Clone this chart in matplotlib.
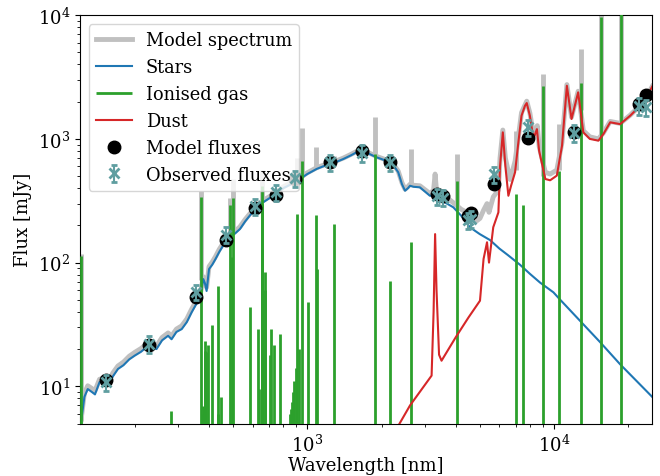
import matplotlib
matplotlib.use('Agg')
import matplotlib.pyplot as plt

plt.rcParams['font.family'] = ['DejaVu Serif']
plt.rcParams['mathtext.fontset'] = 'dejavuserif'
plt.rcParams['font.size'] = 13

# stellar component [nm, mJy]
star_wave = [121, 125, 129, 134, 138, 144, 150, 156, 163, 171, 180, 190, 200, 212, 227,
             245, 258, 273, 282, 295, 310, 325, 340, 361, 370, 379, 385, 391, 400, 412,
             425, 440, 455, 471, 490, 510, 534, 560, 590, 614, 650, 700, 752, 800, 850,
             878, 934, 1000, 1092, 1160, 1236, 1320, 1400, 1500, 1585, 1645, 1750, 1910,
             2050, 2164, 2250, 2337, 2420, 2490, 2560, 2608, 2700, 2860, 3000, 3140, 3240,
             3500, 3906, 4200, 4560, 5000, 5505, 6000, 6500, 7280, 7990, 8770, 9940,
             10500, 12730, 15380, 18500, 25000]
star_flux = [5.0, 8.2, 9.5, 9.0, 8.6, 10.8, 10.9, 10.1, 12.0, 13.8, 14.8, 16.5, 17.7, 19.0, 21.3,
             20.0, 23.5, 25.6, 24.0, 27.5, 29, 33, 39.6, 49, 55, 73.6, 68, 59, 88.7, 96,
             107, 122, 136, 150, 163, 172, 187, 215, 245, 271, 300, 330, 359, 400, 425,
             446, 474, 520, 572, 600, 627, 655, 688, 735, 780, 795, 770, 710,
             675, 647, 600, 537, 430, 381, 400, 418, 410, 406, 375, 347, 347,
             318, 280, 240, 193, 170, 152, 130, 115, 96, 81, 69, 57.5,
             51, 33.9, 22.7, 15.1, 8.2]

# dust component
dust_wave = [2250, 2608, 3190, 3250, 3296, 3340, 3420, 3500, 4000, 4500, 5010, 5180, 5350,
             5450, 5670, 5950, 6040, 6200, 6350, 6530, 6700, 6950, 7150, 7380, 7620, 7750,
             7980, 8250, 8520, 8700, 9220, 9640, 10260, 10770, 11270, 11770, 12520, 13140,
             13960, 15120, 15850, 16880, 18520, 20340, 23070, 25000]
dust_flux = [4.2, 7.0, 12.2, 40, 170, 60, 18, 16.1, 25, 36, 49.2, 107, 146,
             100, 193, 255, 600, 1130, 600, 347, 420, 537, 900, 1540, 1850, 1950,
             1540, 1000, 1200, 800, 474, 463, 505, 881, 2690, 1449, 2380, 1130,
             1000, 968, 1096, 1362, 1317, 1540, 1977, 2650]

# full model continuum
model_wave = [121, 125, 129, 134, 138, 144, 150, 156, 163, 171, 180, 190, 200, 212, 227,
              245, 258, 273, 282, 295, 310, 325, 340, 361, 370, 379, 385, 391, 400, 412,
              425, 440, 455, 471, 490, 510, 534, 560, 590, 614, 650, 700, 752, 800, 850,
              878, 934, 1000, 1092, 1160, 1236, 1320, 1400, 1500, 1585, 1645, 1750, 1910,
              2050, 2164, 2250, 2337, 2420, 2490, 2560, 2608, 2700, 2860, 3000, 3140, 3250,
              3296, 3340, 3500, 3790, 3906, 4200, 4430, 4560, 4865, 5010, 5180, 5350, 5450,
              5670, 5950, 6040, 6200, 6350, 6630, 6800, 6950, 7150, 7380, 7750, 7980, 8250,
              8550, 8700, 9220, 9640, 10260, 10770, 11270, 11770, 12520, 13140, 13960,
              15120, 15850, 16880, 18520, 20340, 23070, 25000]
model_flux = [5.2, 8.8, 10.1, 9.6, 9.2, 11.4, 11.6, 10.8, 12.8, 14.6, 15.7, 17.5, 18.8, 20.2, 22.5,
              21.2, 24.8, 27.0, 25.5, 29, 30.8, 35, 42, 52, 58, 77, 72, 63, 93, 101,
              112, 128, 142, 157, 170, 179, 195, 223, 253, 280, 310, 340, 370, 410, 436,
              457, 485, 532, 585, 612, 640, 668, 700, 748, 793, 808, 782, 722,
              686, 658, 612, 548, 442, 392, 412, 430, 422, 418, 388, 362, 385,
              520, 380, 335, 320, 305, 270, 255, 235, 218, 228, 265, 300, 255,
              340, 385, 700, 1180, 700, 470, 560, 660, 1000, 1630, 2020, 1620, 1080,
              1280, 870, 537, 520, 560, 940, 2750, 1500, 2430, 1165, 1040,
              1000, 1120, 1385, 1335, 1555, 1990, 2660]

# emission lines from the model spectrum (peak above continuum)
spike_wave = [121.6, 372.7, 486.1, 500.7, 656.3, 906.9, 953.1, 1083, 1282, 1875, 2626,
              4051, 6985, 8991, 10510, 12814, 15555, 18713]
spike_base = [5.2, 72, 168, 175, 310, 470, 490, 585, 640, 730, 418,
              290, 560, 500, 560, 1700, 1080, 1350]
spike_top = [118, 381, 330, 470, 560, 700, 1230, 855, 731, 1497, 828,
             755, 1165, 3350, 1320, 5333, 12000, 13000]

# ionised gas emission lines
line_wave = [121.6, 279.8, 372.7, 377.1, 379.8, 383.5, 386.9, 388.9, 397.0, 410.2, 434.0,
             436.3, 447.1, 486.1, 495.9, 500.7, 587.6, 630.0, 636.3, 654.8, 656.3, 658.4,
             671.6, 673.1, 706.5, 713.6, 732.0, 775.1, 854.5, 859.8, 866.5, 875.0, 886.3,
             901.5, 906.9, 922.9, 953.1, 1005, 1083, 1094, 1282, 1875, 2166, 2626, 4051,
             6985, 7460, 8991, 10510, 12814, 15555, 18713]
line_flux = [114, 6.3, 337, 6.0, 6.9, 19.4, 23.4, 19, 21.5, 31.5, 65,
             6.0, 8.2, 290, 110, 330, 43.5, 29, 9.5, 130, 420, 300,
             84, 60, 18, 29, 21.5, 26.5, 6.0, 6.5, 7.5, 9, 11,
             14, 247, 20, 667, 48.3, 243, 89, 205, 755, 71.5, 146, 459,
             359, 292, 2660, 553, 2832, 9700, 12000]

# photometric points
filter_wave = [153, 228, 355, 469, 617, 748, 893, 1235, 1662, 2159, 3353, 3550, 4496, 4603,
               5731, 7872, 12000, 22088, 23680]
model_fluxes = [11.2, 21.7, 52.5, 152, 275, 352, 474, 647, 795, 647, 359, 345, 240, 250,
                431, 1010, 1143, 1914, 2265]
obs_fluxes = [10.8, 22.0, 58, 168, 285, 370, 480, 645, 770, 650, 345, 335, 220, 225,
              520, 1240, 1120, 1850, 1800]
obs_err = [1.6, 3.3, 8.5, 25, 42, 55, 72, 95, 115, 95, 52, 50, 33, 34,
           78, 185, 168, 275, 270]

fig, ax = plt.subplots(figsize=(6.6, 4.77), dpi=100)
fig.subplots_adjust(left=0.1212, right=0.9883, bottom=0.110, top=0.966)

grey = '#c0c0c0'
ax.plot(model_wave, model_flux, color=grey, lw=3.5, label='Model spectrum', zorder=1)
ax.vlines(spike_wave, spike_base, spike_top, color=grey, lw=3.5, zorder=1)
ax.plot(star_wave, star_flux, color='#1f77b4', lw=1.5, label='Stars', zorder=2)
ax.vlines(line_wave, 1.0, line_flux, color='#2ca02c', lw=2, label='Ionised gas', zorder=3)
ax.plot(dust_wave, dust_flux, color='#d62728', lw=1.5, label='Dust', zorder=4)
ax.plot(filter_wave, model_fluxes, 'o', color='black', ms=9, ls='',
        label='Model fluxes', zorder=5)
ax.errorbar(filter_wave, obs_fluxes, yerr=obs_err, fmt='x', color='cadetblue',
            ms=7, mew=2, elinewidth=1.5, capsize=2, capthick=1.5,
            label='Observed fluxes', zorder=6)

ax.set_xscale('log')
ax.set_yscale('log')
ax.set_xlim(120, 25000)
ax.set_ylim(5, 1e4)
ax.set_xlabel('Wavelength [nm]', labelpad=1)
ax.set_ylabel('Flux [mJy]')
ax.legend(loc='upper left', fontsize=12.8)

plt.savefig('out.png', dpi=100)
plt.close()
